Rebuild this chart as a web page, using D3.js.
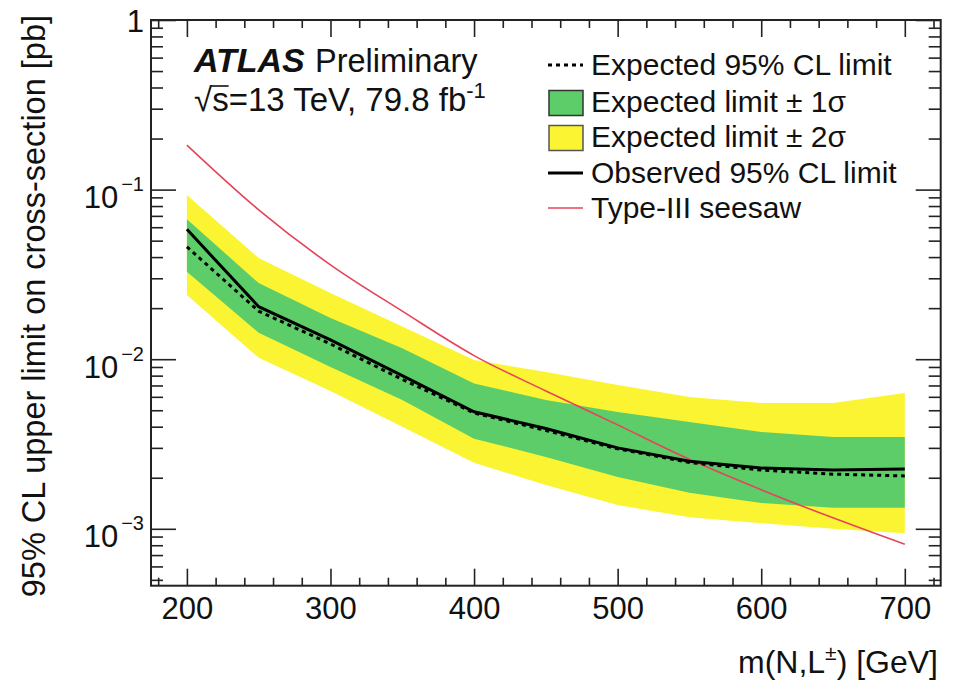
<!DOCTYPE html>
<html>
<head>
<meta charset="utf-8">
<script src="https://cdn.jsdelivr.net/npm/d3@7"></script>
<style>
	body { margin: 0; background: #fff; }
	text { font-family: "Liberation Sans", Arial, Helvetica, sans-serif; fill: #111; }
</style>
</head>
<body>
<svg id="limit" width="963" height="689"></svg>
<script>

// mass points of the scan [GeV]
var massPoints = [200, 250, 300, 350, 400, 450, 500, 550, 600, 650, 700];

// 95% CL limits on cross-section [pb]
var observed = [0.0583, 0.0204, 0.0130, 0.0080, 0.00490, 0.00390, 0.00300, 0.00250, 0.00228, 0.00222, 0.00225];
var expected = [0.0460, 0.0192, 0.0123, 0.0076, 0.00482, 0.00380, 0.00296, 0.00246, 0.00222, 0.00210, 0.00205];
var minus2 = [0.0239, 0.0102, 0.0065, 0.0040, 0.00245, 0.00181, 0.00138, 0.00117, 0.00108, 0.00100, 0.00094];
var minus1 = [0.0328, 0.0143, 0.0090, 0.00575, 0.00340, 0.00265, 0.00202, 0.00163, 0.00142, 0.00133, 0.00133];
var plus1 = [0.0668, 0.0281, 0.0175, 0.0116, 0.00720, 0.00575, 0.00488, 0.00426, 0.00372, 0.00348, 0.00348];
var plus2 = [0.0929, 0.0395, 0.0246, 0.0156, 0.00990, 0.0084, 0.00705, 0.00598, 0.00552, 0.00552, 0.00632];

// theory cross-section
var seesaw = [0.183, 0.076, 0.036, 0.0192, 0.0105, 0.0065, 0.0041, 0.00257, 0.0017, 0.00116, 0.00081];

var xTicks = [200, 300, 400, 500, 600, 700];
var yTicks = [0.001, 0.01, 0.1, 1];
var yTickLabels = ["10|-3", "10|-2", "10|-1", "1"];

var legendLabels = ["Expected 95% CL limit", "Expected limit \u00b1 1\u03c3",
					"Expected limit \u00b1 2\u03c3", "Observed 95% CL limit",
					"Type-III seesaw"];


var svg = d3.select("#limit");

// frame edges (plain "top" would clash with window.top)
var frameL = 151, frameR = 940.7, frameT = 20, frameB = 585.7;

var x = d3.scaleLinear().domain([175, 725]).range([frameL, frameR]);
var y = d3.scaleLog().domain([Math.pow(10, -3.3355), 1]).range([frameB, frameT]);

var green = "#5dcd69";
var yellow = "#fbf432";
var red = "#e5445a";
var axisColour = "#222";


function band(lo, hi) {
	return d3.area()
		.x(function(d, i) { return x(massPoints[i]); })
		.y0(function(d, i) { return y(lo[i]); })
		.y1(function(d, i) { return y(hi[i]); })(massPoints);
}

function curve(values, shape) {
	return d3.line()
		.curve(shape || d3.curveLinear)
		.x(function(d, i) { return x(massPoints[i]); })
		.y(function(d) { return y(d); })(values);
}

// bands
svg.append("path").attr("d", band(minus2, plus2)).style("fill", yellow);
svg.append("path").attr("d", band(minus1, plus1)).style("fill", green);

// seesaw
svg.append("path")
	.attr("d", curve(seesaw, d3.curveMonotoneX))
	.style("fill", "none")
	.style("stroke", red)
	.style("stroke-width", 1.6);

// expected and observed
svg.append("path")
	.attr("d", curve(expected))
	.style("fill", "none")
	.style("stroke", "#000")
	.style("stroke-width", 3)
	.style("stroke-dasharray", "4,4");

svg.append("path")
	.attr("d", curve(observed))
	.style("fill", "none")
	.style("stroke", "#000")
	.style("stroke-width", 3);


// axes: ticks drawn inside the frame, like ROOT
var xMinor = d3.range(180, 721, 20).filter(function(d) { return d % 100 != 0; });
var yMinor = [];
[-4, -3, -2, -1].forEach(function(e) {
	for (var k = 2; k < 10; k++) {
		var v = k * Math.pow(10, e);
		if (v > y.domain()[0] && v < 1) yMinor.push(v);
	}
});

function styleAxis(g) {
	g.selectAll("path").remove();
	g.selectAll("line").style("stroke", axisColour).style("stroke-width", 1.6);
}

// bottom
svg.append("g")
	.attr("transform", "translate(0," + frameB + ")")
	.call(d3.axisBottom(x).tickValues(xTicks).tickSize(-17).tickPadding(11)
		.tickFormat(d3.format("d")))
	.call(styleAxis)
	.selectAll("text").style("font-size", "31px").style("fill", "#111");

svg.append("g")
	.attr("transform", "translate(0," + frameB + ")")
	.call(d3.axisBottom(x).tickValues(xMinor).tickSize(-8).tickFormat(""))
	.call(styleAxis);

// top
svg.append("g")
	.attr("transform", "translate(0," + frameT + ")")
	.call(d3.axisTop(x).tickValues(xTicks).tickSize(-17).tickFormat(""))
	.call(styleAxis);

svg.append("g")
	.attr("transform", "translate(0," + frameT + ")")
	.call(d3.axisTop(x).tickValues(xMinor).tickSize(-8).tickFormat(""))
	.call(styleAxis);

// left
var yAxis = svg.append("g")
	.attr("transform", "translate(" + frameL + ",0)")
	.call(d3.axisLeft(y).tickValues(yTicks).tickSize(-25).tickPadding(7)
		.tickFormat(function(d, i) { return yTickLabels[i]; }))
	.call(styleAxis);

yAxis.selectAll("text")
	.style("font-size", "31px")
	.each(function(d, i) {
		var parts = yTickLabels[i].split("|");
		var t = d3.select(this).text(null);
		if (parts.length == 1) {
			t.attr("dy", 11).text(parts[0]);
		} else {
			t.attr("dy", 18);
			t.append("tspan").text(parts[0]);
			t.append("tspan")
				.attr("dx", 3)
				.attr("dy", -17)
				.style("font-size", "20px")
				.text("\u2212" + parts[1].replace("-", ""));
		}
	});

svg.append("g")
	.attr("transform", "translate(" + frameL + ",0)")
	.call(d3.axisLeft(y).tickValues(yMinor).tickSize(-12).tickFormat(""))
	.call(styleAxis);

// right
svg.append("g")
	.attr("transform", "translate(" + frameR + ",0)")
	.call(d3.axisRight(y).tickValues(yTicks).tickSize(-25).tickFormat(""))
	.call(styleAxis);

svg.append("g")
	.attr("transform", "translate(" + frameR + ",0)")
	.call(d3.axisRight(y).tickValues(yMinor).tickSize(-12).tickFormat(""))
	.call(styleAxis);

// frame
svg.append("rect")
	.attr("x", frameL)
	.attr("y", frameT)
	.attr("width", frameR - frameL)
	.attr("height", frameB - frameT)
	.style("fill", "none")
	.style("stroke", axisColour)
	.style("stroke-width", 2);


// axis titles
var xTitle = svg.append("text")
	.attr("x", 938)
	.attr("y", 673)
	.attr("text-anchor", "end")
	.style("font-size", "32px");
xTitle.append("tspan").text("m(N,L");
xTitle.append("tspan").attr("dy", -13).style("font-size", "21px").text("\u00b1");
xTitle.append("tspan").attr("dy", 13).text(") [GeV]");

svg.append("text")
	.attr("transform", "translate(45,15) rotate(-90)")
	.attr("text-anchor", "end")
	.style("font-size", "32.5px")
	.text("95% CL upper limit on cross-section [pb]");


// ATLAS label
var atlas = svg.append("text")
	.attr("x", 194)
	.attr("y", 72)
	.style("font-size", "32.5px");
atlas.append("tspan")
	.style("font-weight", "bold")
	.style("font-style", "italic")
	.style("font-size", "34px")
	.text("ATLAS");
atlas.append("tspan").attr("x", 315).text("Preliminary");

var energy = svg.append("text")
	.attr("x", 194)
	.attr("y", 111)
	.style("font-size", "33px");
energy.append("tspan").text("\u221a");
energy.append("tspan").text("s=13 TeV, 79.8 fb");
energy.append("tspan").attr("dy", -13).style("font-size", "22px").text("-1");

// bar of the square root over the "s"
var eNode = energy.node();
var sStart = eNode.getStartPositionOfChar(1).x;
var sEnd = eNode.getEndPositionOfChar(1).x;
svg.append("line")
	.attr("x1", sStart - 1).attr("x2", sEnd)
	.attr("y1", 86).attr("y2", 86)
	.style("stroke", "#111").style("stroke-width", 1.6);


// legend
var legendY = [65, 102.5, 137.5, 173, 208];
var legend = svg.append("g");

legend.selectAll("text")
	.data(legendLabels).enter()
	.append("text")
	.attr("x", 591)
	.attr("y", function(d, i) { return legendY[i] + 9.5; })
	.style("font-size", "30px")
	.text(function(d) { return d; });

legend.append("line")
	.attr("x1", 548).attr("x2", 583)
	.attr("y1", legendY[0]).attr("y2", legendY[0])
	.style("stroke", "#000").style("stroke-width", 3)
	.style("stroke-dasharray", "4,4");

legend.append("rect")
	.attr("x", 549).attr("y", legendY[1] - 12)
	.attr("width", 34).attr("height", 25)
	.style("fill", green).style("stroke", "#333").style("stroke-width", 1.5);

legend.append("rect")
	.attr("x", 549).attr("y", legendY[2] - 12)
	.attr("width", 34).attr("height", 25)
	.style("fill", yellow).style("stroke", "#555").style("stroke-width", 1.5);

legend.append("line")
	.attr("x1", 548).attr("x2", 583)
	.attr("y1", legendY[3]).attr("y2", legendY[3])
	.style("stroke", "#000").style("stroke-width", 3);

legend.append("line")
	.attr("x1", 548).attr("x2", 583)
	.attr("y1", legendY[4]).attr("y2", legendY[4])
	.style("stroke", red).style("stroke-width", 1.6);

</script>
</body>
</html>
